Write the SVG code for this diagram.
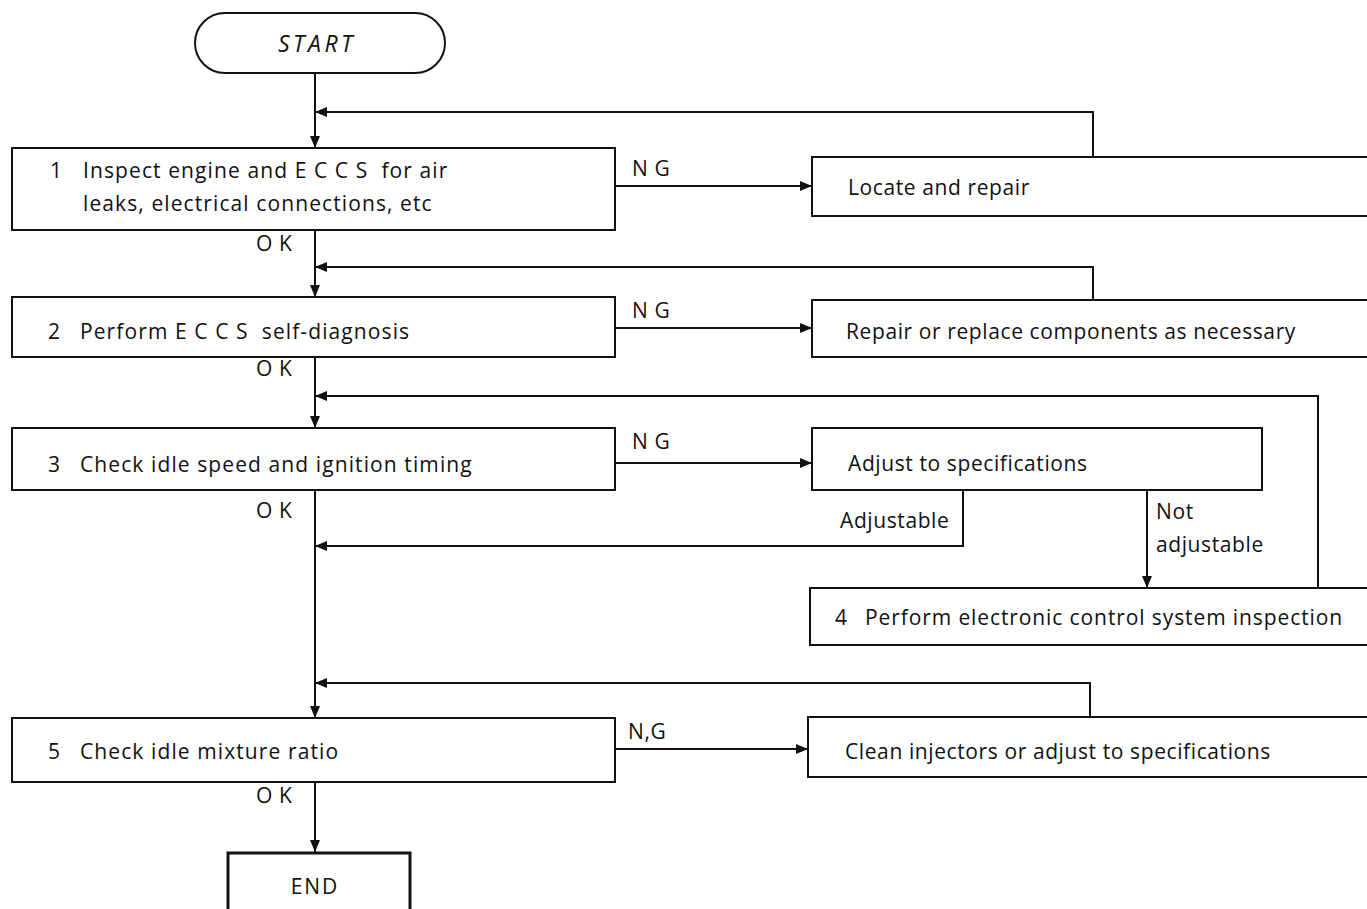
<svg xmlns="http://www.w3.org/2000/svg" width="1367" height="909" viewBox="0 0 1367 909">
<style>
.b{fill:#fff;stroke:#111;stroke-width:2}
.t{font-family:"Open Sans","Liberation Sans",sans-serif;font-size:21px;letter-spacing:0.6px;fill:#111;white-space:pre}
.s{letter-spacing:1.1px}
.l{font-family:"Open Sans","Liberation Sans",sans-serif;font-size:21px;letter-spacing:0.6px;fill:#111;white-space:pre}
.c{fill:none;stroke:#111;stroke-width:2}
</style>
<defs>
<marker id="a" viewBox="0 0 12 10" refX="12" refY="5" markerWidth="12" markerHeight="10" markerUnits="userSpaceOnUse" orient="auto"><path d="M0,0 L12,5 L0,10 z" fill="#111"/></marker>
</defs>
<rect width="1367" height="909" fill="#fff"/>
<g id="connectors">
<path class="c" d="M315,73 V148" marker-end="url(#a)"/>
<path class="c" d="M1093,157 V112 H315" marker-end="url(#a)"/>
<path class="c" d="M615,186 H812" marker-end="url(#a)"/>
<path class="c" d="M315,230 V297" marker-end="url(#a)"/>
<path class="c" d="M1093,300 V267 H315" marker-end="url(#a)"/>
<path class="c" d="M615,328 H812" marker-end="url(#a)"/>
<path class="c" d="M315,357 V428" marker-end="url(#a)"/>
<path class="c" d="M1318,588 V396 H315" marker-end="url(#a)"/>
<path class="c" d="M615,463 H812" marker-end="url(#a)"/>
<path class="c" d="M963,490 V546 H315" marker-end="url(#a)"/>
<path class="c" d="M1147,490 V588" marker-end="url(#a)"/>
<path class="c" d="M315,490 V718" marker-end="url(#a)"/>
<path class="c" d="M1090,717 V683 H315" marker-end="url(#a)"/>
<path class="c" d="M615,749 H808" marker-end="url(#a)"/>
<path class="c" d="M315,782 V852" marker-end="url(#a)"/>
<text class="l" x="632" y="176">N G</text>
<text class="l" x="256" y="251">O K</text>
<text class="l" x="632" y="318">N G</text>
<text class="l" x="256" y="376">O K</text>
<text class="l" x="632" y="449">N G</text>
<text class="l" x="256" y="518">O K</text>
<text class="l" x="840" y="528">Adjustable</text>
<text class="l" x="1156" y="519">Not</text>
<text class="l" x="1156" y="552">adjustable</text>
<text class="l" x="628" y="739">N,G</text>
<text class="l" x="256" y="803">O K</text>
</g>
<g id="start"><rect class="b" x="195" y="13" width="250" height="60" rx="30"/><text class="t" x="317" y="52" text-anchor="middle" style="font-style:italic;font-size:23px;letter-spacing:3.5px">START</text></g>
<g id="step1"><rect class="b" x="12" y="148" width="603" height="82"/><text class="t" x="50" y="178">1</text><text class="t s" x="83" y="178">Inspect engine and E C C S  for air</text><text class="t s" x="83" y="211">leaks, electrical connections, etc</text></g>
<g id="locate"><rect class="b" x="812" y="157" width="580" height="59"/><text class="t" x="848" y="195">Locate and repair</text></g>
<g id="step2"><rect class="b" x="12" y="297" width="603" height="60"/><text class="t" x="48" y="339">2</text><text class="t s" x="80" y="339">Perform E C C S  self-diagnosis</text></g>
<g id="repair"><rect class="b" x="812" y="300" width="580" height="57"/><text class="t" x="846" y="339">Repair or replace components as necessary</text></g>
<g id="step3"><rect class="b" x="12" y="428" width="603" height="62"/><text class="t" x="48" y="472">3</text><text class="t s" x="80" y="472">Check idle speed and ignition timing</text></g>
<g id="adjust"><rect class="b" x="812" y="428" width="450" height="62"/><text class="t" x="848" y="471">Adjust to specifications</text></g>
<g id="step4"><rect class="b" x="810" y="588" width="580" height="57"/><text class="t" x="835" y="625">4</text><text class="t" x="865" y="625" style="letter-spacing:0.9px">Perform electronic control system inspection</text></g>
<g id="step5"><rect class="b" x="12" y="718" width="603" height="64"/><text class="t" x="48" y="759">5</text><text class="t s" x="80" y="759">Check idle mixture ratio</text></g>
<g id="clean"><rect class="b" x="808" y="717" width="580" height="60"/><text class="t" x="845" y="759">Clean injectors or adjust to specifications</text></g>
<g id="end"><rect x="228" y="853" width="182" height="70" fill="#fff" stroke="#111" stroke-width="3"/><text class="t" x="315" y="894" text-anchor="middle" style="letter-spacing:2px">END</text></g>
</svg>
